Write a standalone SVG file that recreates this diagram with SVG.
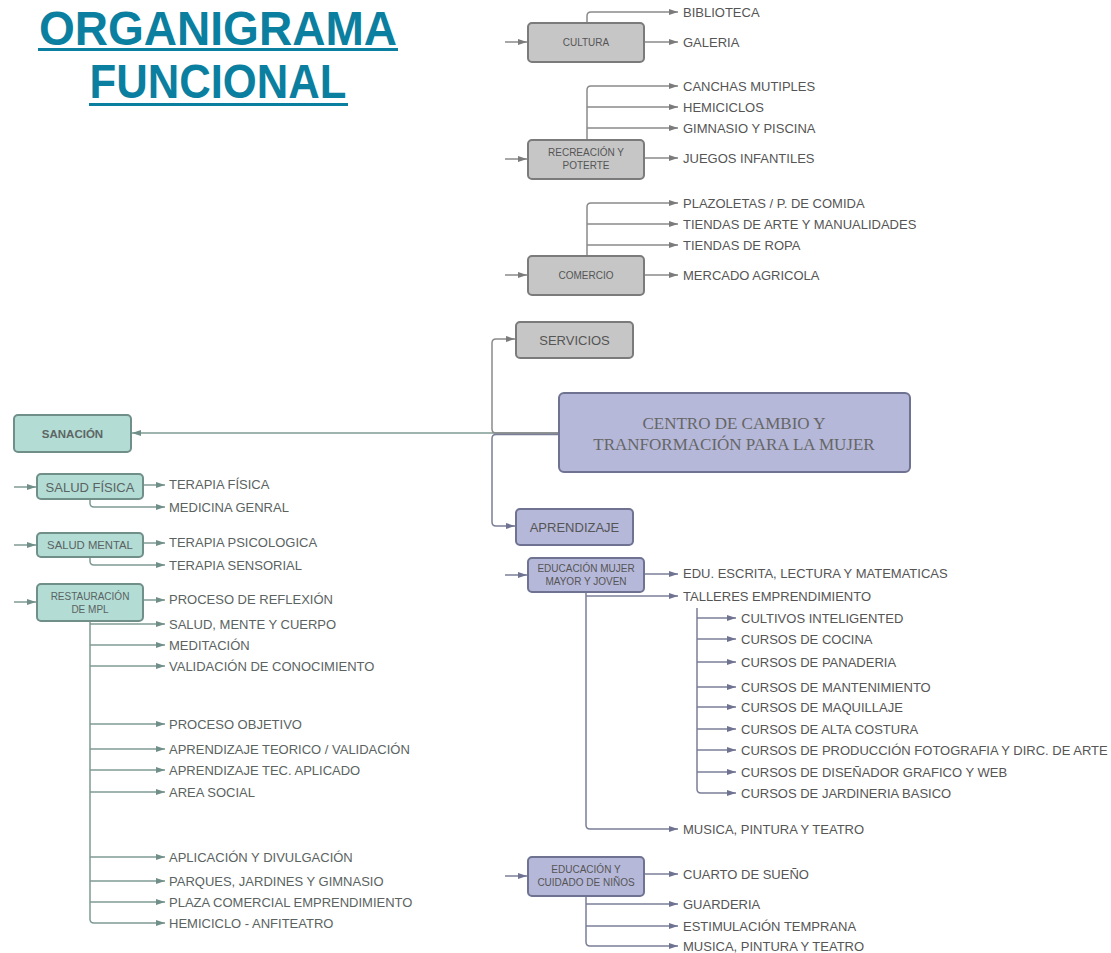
<svg xmlns="http://www.w3.org/2000/svg" width="1111" height="953" viewBox="0 0 1111 953">
<defs>
<style>
.t{font-family:"Liberation Sans",Arial,sans-serif;font-size:13px;fill:#555}
.tl{font-family:"Liberation Sans",Arial,sans-serif;font-size:13px;fill:#5a6361}
.bs{font-family:"Liberation Sans",Arial,sans-serif;font-size:10px;fill:#555;text-anchor:middle}
.bm{font-family:"Liberation Sans",Arial,sans-serif;font-size:13px;fill:#555;text-anchor:middle}
.title{font-family:"Liberation Sans",Arial,sans-serif;font-weight:bold;font-size:49px;fill:#0b7fa0;text-anchor:middle}
.gray{fill:#c6c6c6;stroke:#7b7b7b;stroke-width:2}
.lav{fill:#b5b8d9;stroke:#6f7290;stroke-width:2}
.mint{fill:#b3dcd5;stroke:#6f8f88;stroke-width:2}
.cg{fill:none;stroke:#8a8a8a;stroke-width:1.5;marker-end:url(#ag)}
.cl{fill:none;stroke:#7b7e98;stroke-width:1.5;marker-end:url(#al)}
.cm{fill:none;stroke:#7f9a94;stroke-width:1.5;marker-end:url(#am)}
.cmn{fill:none;stroke:#7f9a94;stroke-width:1.5}
.cln{fill:none;stroke:#7b7e98;stroke-width:1.5}
</style>
<marker id="ag" markerUnits="userSpaceOnUse" markerWidth="9" markerHeight="6" refX="9" refY="3" orient="auto"><path d="M0,0 L9,3 L0,6 z" fill="#7b7b7b"/></marker>
<marker id="al" markerUnits="userSpaceOnUse" markerWidth="9" markerHeight="6" refX="9" refY="3" orient="auto"><path d="M0,0 L9,3 L0,6 z" fill="#6f7290"/></marker>
<marker id="am" markerUnits="userSpaceOnUse" markerWidth="9" markerHeight="6" refX="9" refY="3" orient="auto"><path d="M0,0 L9,3 L0,6 z" fill="#6f8f88"/></marker>
</defs>
<rect width="1111" height="953" fill="#ffffff"/>

<g id="title">
<text class="title" x="218" y="45" textLength="358" lengthAdjust="spacingAndGlyphs">ORGANIGRAMA</text>
<rect x="38" y="48" width="360" height="3" fill="#0b7fa0"/>
<text class="title" x="218" y="98" textLength="257" lengthAdjust="spacingAndGlyphs">FUNCIONAL</text>
<rect x="89" y="103" width="259" height="3" fill="#0b7fa0"/>
</g>

<g id="connectors">
<!-- center -->
<path class="cm" d="M559,433 H132"/>
<path class="cg" d="M559,433 H496 Q492,433 492,429 V343 Q492,339 496,339 H515"/>
<path class="cl" d="M559,434.5 H496 Q492,434.5 492,438.5 V522 Q492,526 496,526 H515"/>
<!-- cultura -->
<path class="cg" d="M505,42 H527"/>
<path class="cg" d="M587,23 V16 Q587,12 591,12 H678"/>
<path class="cg" d="M644,42 H678"/>
<!-- recreacion -->
<path class="cg" d="M505,159 H527"/>
<path class="cg" d="M587,140 V90 Q587,86 591,86 H678"/>
<path class="cg" d="M587,107 H678"/>
<path class="cg" d="M587,128 H678"/>
<path class="cg" d="M644,158 H678"/>
<!-- comercio -->
<path class="cg" d="M505,275 H527"/>
<path class="cg" d="M587,256 V207 Q587,203 591,203 H678"/>
<path class="cg" d="M587,224 H678"/>
<path class="cg" d="M587,245 H678"/>
<path class="cg" d="M644,275 H678"/>
<!-- educacion mujer -->
<path class="cl" d="M505,575 H527"/>
<path class="cl" d="M644,574 H678"/>
<path class="cl" d="M586,592 V825 Q586,829 590,829 H678"/>
<path class="cl" d="M586,596 H678"/>
<path class="cl" d="M697,608 V789 Q697,793 701,793 H736"/>
<path class="cl" d="M697,618 H736"/>
<path class="cl" d="M697,639 H736"/>
<path class="cl" d="M697,662 H736"/>
<path class="cl" d="M697,687 H736"/>
<path class="cl" d="M697,707 H736"/>
<path class="cl" d="M697,729 H736"/>
<path class="cl" d="M697,750 H736"/>
<path class="cl" d="M697,772 H736"/>
<!-- ninos -->
<path class="cl" d="M505,876 H527"/>
<path class="cl" d="M644,874 H678"/>
<path class="cl" d="M586,896 V942 Q586,946 590,946 H678"/>
<path class="cl" d="M586,904 H678"/>
<path class="cl" d="M586,926 H678"/>
<!-- salud fisica -->
<path class="cm" d="M14,487 H36"/>
<path class="cm" d="M143,485 H165"/>
<path class="cm" d="M90,499 V503 Q90,507 94,507 H165"/>
<!-- salud mental -->
<path class="cm" d="M14,545 H36"/>
<path class="cm" d="M143,543 H165"/>
<path class="cm" d="M90,557 V561 Q90,565 94,565 H165"/>
<!-- restauracion -->
<path class="cm" d="M14,602 H36"/>
<path class="cm" d="M143,600 H165"/>
<path class="cm" d="M90,621 V919 Q90,923 94,923 H165"/>
<path class="cm" d="M90,624 H165"/>
<path class="cm" d="M90,645 H165"/>
<path class="cm" d="M90,666 H165"/>
<path class="cm" d="M90,724 H165"/>
<path class="cm" d="M90,749 H165"/>
<path class="cm" d="M90,770 H165"/>
<path class="cm" d="M90,792 H165"/>
<path class="cm" d="M90,857 H165"/>
<path class="cm" d="M90,881 H165"/>
<path class="cm" d="M90,902 H165"/>
</g>

<g id="node-centro">
<rect class="lav" x="559" y="393" width="351" height="79" rx="5"/>
<text x="734" y="429" font-family="'Liberation Serif','Times New Roman',serif" font-size="17" fill="#666" text-anchor="middle">CENTRO DE CAMBIO Y</text>
<text x="734" y="450" font-family="'Liberation Serif','Times New Roman',serif" font-size="17" fill="#666" text-anchor="middle">TRANFORMACIÓN PARA LA MUJER</text>
</g>

<g id="node-servicios"><rect class="gray" x="516" y="322" width="117" height="36" rx="4"/><text class="bm" x="574.5" y="344.5">SERVICIOS</text></g>
<g id="node-aprendizaje"><rect class="lav" x="516" y="509" width="117" height="36" rx="4"/><text class="bm" x="574.5" y="531.5">APRENDIZAJE</text></g>

<g id="node-cultura"><rect class="gray" x="528" y="23" width="116" height="39" rx="4"/><text class="bs" x="586" y="46">CULTURA</text></g>
<g id="node-recreacion"><rect class="gray" x="528" y="140" width="116" height="39" rx="4"/><text class="bs" x="586" y="155.5">RECREACIÓN Y</text><text class="bs" x="586" y="168.5">POTERTE</text></g>
<g id="node-comercio"><rect class="gray" x="528" y="256" width="116" height="39" rx="4"/><text class="bs" x="586" y="279">COMERCIO</text></g>
<g id="node-edu-mujer"><rect class="lav" x="528" y="558" width="116" height="34" rx="4"/><text class="bs" x="586" y="572">EDUCACIÓN MUJER</text><text class="bs" x="586" y="585">MAYOR Y JOVEN</text></g>
<g id="node-edu-ninos"><rect class="lav" x="528" y="857" width="116" height="39" rx="4"/><text class="bs" x="586" y="872.5">EDUCACIÓN Y</text><text class="bs" x="586" y="885.5">CUIDADO DE NIÑOS</text></g>

<g id="node-sanacion"><rect class="mint" x="14" y="415" width="117" height="37" rx="4"/><text x="72.5" y="437.5" font-family="'Liberation Sans',Arial,sans-serif" font-size="11.5" font-weight="bold" fill="#5d6664" text-anchor="middle">SANACIÓN</text></g>
<g id="node-salud-fisica"><rect class="mint" x="37" y="474" width="106" height="25" rx="4"/><text class="bm" x="90" y="491.5" font-size="12.5" style="fill:#5a6361">SALUD FÍSICA</text></g>
<g id="node-salud-mental"><rect class="mint" x="37" y="533" width="106" height="24" rx="4"/><text class="bm" x="90" y="549" style="font-size:11.3px;fill:#5a6361">SALUD MENTAL</text></g>
<g id="node-restauracion"><rect class="mint" x="37" y="584" width="106" height="37" rx="4"/><text class="bs" x="90" y="599.5" style="fill:#5a6361">RESTAURACIÓN</text><text class="bs" x="90" y="612.5" style="fill:#5a6361">DE MPL</text></g>

<g id="labels-right">
<text class="t" x="683" y="16.5">BIBLIOTECA</text>
<text class="t" x="683" y="46.5">GALERIA</text>
<text class="t" x="683" y="90.5">CANCHAS MUTIPLES</text>
<text class="t" x="683" y="111.5">HEMICICLOS</text>
<text class="t" x="683" y="132.5">GIMNASIO Y PISCINA</text>
<text class="t" x="683" y="162.5">JUEGOS INFANTILES</text>
<text class="t" x="683" y="207.5">PLAZOLETAS / P. DE COMIDA</text>
<text class="t" x="683" y="228.5">TIENDAS DE ARTE Y MANUALIDADES</text>
<text class="t" x="683" y="249.5">TIENDAS DE ROPA</text>
<text class="t" x="683" y="279.5">MERCADO AGRICOLA</text>
<text class="t" x="683" y="577.5">EDU. ESCRITA, LECTURA Y MATEMATICAS</text>
<text class="t" x="683" y="600.5">TALLERES EMPRENDIMIENTO</text>
<text class="t" x="741" y="622.5">CULTIVOS INTELIGENTED</text>
<text class="t" x="741" y="643.5">CURSOS DE COCINA</text>
<text class="t" x="741" y="666.5">CURSOS DE PANADERIA</text>
<text class="t" x="741" y="691.5">CURSOS DE MANTENIMIENTO</text>
<text class="t" x="741" y="711.5">CURSOS DE MAQUILLAJE</text>
<text class="t" x="741" y="733.5">CURSOS DE ALTA COSTURA</text>
<text class="t" x="741" y="754.5">CURSOS DE PRODUCCIÓN FOTOGRAFIA Y DIRC. DE ARTE</text>
<text class="t" x="741" y="776.5">CURSOS DE DISEÑADOR GRAFICO Y WEB</text>
<text class="t" x="741" y="797.5">CURSOS DE JARDINERIA BASICO</text>
<text class="t" x="683" y="833.5">MUSICA, PINTURA Y TEATRO</text>
<text class="t" x="683" y="878.5">CUARTO DE SUEÑO</text>
<text class="t" x="683" y="908.5">GUARDERIA</text>
<text class="t" x="683" y="930.5">ESTIMULACIÓN TEMPRANA</text>
<text class="t" x="683" y="950.5">MUSICA, PINTURA Y TEATRO</text>
</g>

<g id="labels-left">
<text class="tl" x="169" y="488.5">TERAPIA FÍSICA</text>
<text class="tl" x="169" y="511.5">MEDICINA GENRAL</text>
<text class="tl" x="169" y="547">TERAPIA PSICOLOGICA</text>
<text class="tl" x="169" y="569.5">TERAPIA SENSORIAL</text>
<text class="tl" x="169" y="604">PROCESO DE REFLEXIÓN</text>
<text class="tl" x="169" y="628.5">SALUD, MENTE Y CUERPO</text>
<text class="tl" x="169" y="649.5">MEDITACIÓN</text>
<text class="tl" x="169" y="670.5">VALIDACIÓN DE CONOCIMIENTO</text>
<text class="tl" x="169" y="728.5">PROCESO OBJETIVO</text>
<text class="tl" x="169" y="753.5">APRENDIZAJE TEORICO / VALIDACIÓN</text>
<text class="tl" x="169" y="774.5">APRENDIZAJE TEC. APLICADO</text>
<text class="tl" x="169" y="796.5">AREA SOCIAL</text>
<text class="tl" x="169" y="861.5">APLICACIÓN Y DIVULGACIÓN</text>
<text class="tl" x="169" y="885.5">PARQUES, JARDINES Y GIMNASIO</text>
<text class="tl" x="169" y="906.5">PLAZA COMERCIAL EMPRENDIMIENTO</text>
<text class="tl" x="169" y="927.5">HEMICICLO - ANFITEATRO</text>
</g>
</svg>
